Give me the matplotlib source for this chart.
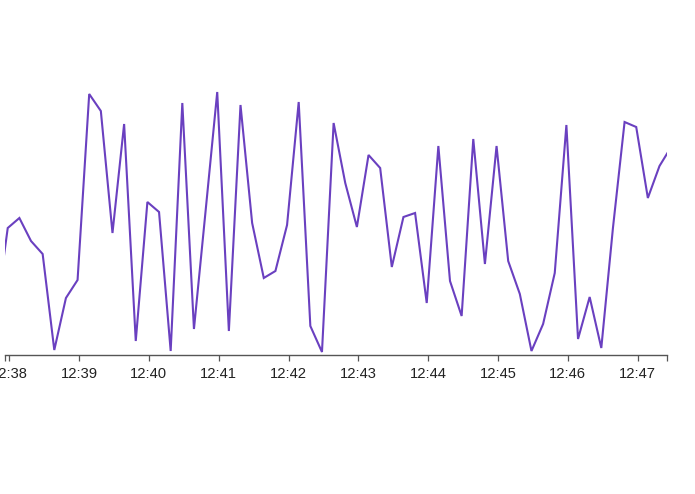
import matplotlib
matplotlib.use("Agg")
import matplotlib.pyplot as plt
import matplotlib.dates as mdates
import numpy as np
import pandas as pd

# 10-second samples
start_time = "2024-01-01 12:37:48.75"
values = [41, 127, 137, 114, 101, 5, 57, 75, 261, 244,
          122, 231, 14, 153, 143, 4, 252, 26, 144, 263,
          24, 250, 132, 77, 84, 130, 253, 29, 3, 232,
          172, 128, 200, 187, 88, 138, 142, 52, 209, 74,
          39, 216, 91, 209, 94, 61, 4, 31, 82, 230,
          16, 58, 7, 127, 233, 228, 157, 189, 208]
times = pd.date_range(start=start_time, periods=len(values), freq="10s")

x_start = pd.Timestamp("2024-01-01 12:37:56.4")
x_end = pd.Timestamp("2024-01-01 12:47:25.2")

W, H = 695, 494
fig = plt.figure(figsize=(W / 100, H / 100), dpi=100)
ax = fig.add_axes([5 / W, (H - 355) / H, (667 - 5) / W, (355 - 40) / H])

ax.plot(times, values, color="#6a40c0", lw=1.5, solid_joinstyle="miter")

ax.set_xlim(x_start, x_end)
ax.set_ylim(0, 315)

for s in ["top", "right", "left"]:
    ax.spines[s].set_visible(False)
ax.spines["bottom"].set_color("#555555")
ax.spines["bottom"].set_linewidth(1.0)
ax.set_yticks([])

ax.xaxis.set_major_locator(mdates.MinuteLocator())
ax.xaxis.set_major_formatter(mdates.DateFormatter("%H:%M"))
ax.set_xticks([mdates.date2num(x_start), mdates.date2num(x_end)], minor=True)
ax.tick_params(axis="x", which="both", direction="out", length=4.3, width=0.9,
               color="#555555")
ax.tick_params(axis="x", which="major", pad=4.0, labelsize=10.6,
               labelcolor="#222222")
for lab in ax.get_xticklabels():
    lab.set_family("Liberation Sans")

fig.savefig("out.png", dpi=100)
